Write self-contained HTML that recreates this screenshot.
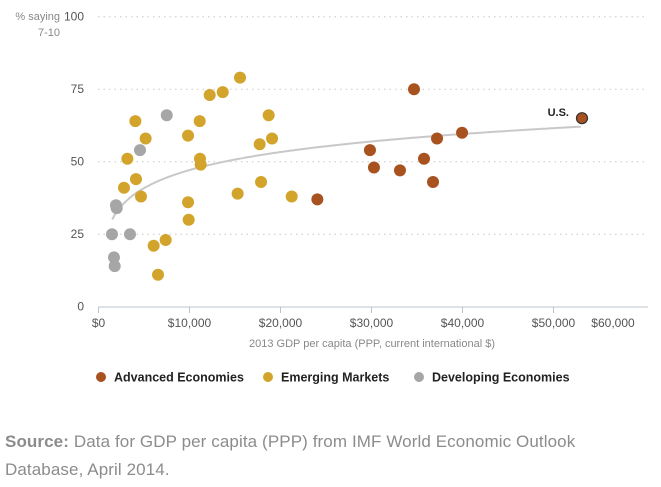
<!DOCTYPE html>
<html><head><meta charset="utf-8">
<style>
body{margin:0;background:#fff;width:661px;height:487px;overflow:hidden;font-family:"Liberation Sans",sans-serif}
svg{position:absolute;left:0;top:0}
.src{position:absolute;left:5px;top:428px;width:650px;font-size:17px;line-height:28px;color:#8c8c8c;letter-spacing:0.1px}
.src b{color:#8c8c8c}
</style></head>
<body>
<svg id="chart" width="661" height="400"></svg>
<div class="src"><b>Source:</b> Data for GDP per capita (PPP) from IMF World Economic Outlook Database, April 2014.</div>
<script>
const yTicks=[0,25,50,75,100];
const xTicks=[0,10000,20000,30000,40000,50000];
const xTickLabels=["$0","$10,000","$20,000","$30,000","$40,000","$50,000"];
const devGdp=[1920,2000,1480,3460,1700,1780,4560,7500];
const devVal=[35,34,25,25,17,14,54,66];
const emGdp=[2800,3170,4050,4120,4670,5180,6060,6540,7380,9840,9840,9910,11120,11150,11230,12220,13650,15550,15290,17710,17860,18700,19070,21230];
const emVal=[41,51,64,44,38,58,21,11,23,59,36,30,64,51,49,73,74,79,39,56,43,66,58,38];
const advGdp=[24050,34670,29830,30270,33130,35770,37200,36760,39950];
const advVal=[37,75,54,48,47,51,58,43,60];
const usGdp=[53130];
const usVal=[65];
const trendA=-35.6, trendB=8.98;
const NS="http://www.w3.org/2000/svg";
const svg=document.getElementById('chart');
const X=v=>98.5+v*0.0091;
const Y=v=>306.7-v*2.9;
function mk(t,a,p){const e=document.createElementNS(NS,t);for(const k in a)e.setAttribute(k,a[k]);(p||svg).appendChild(e);return e;}
yTicks.forEach(t=>{
  if(t>0){const g=mk('line',{x1:98,x2:648,y1:Y(t),y2:Y(t),stroke:'#c8c8c8','stroke-dasharray':'1.5,4'});
  
  }
  const l=mk('text',{x:84,y:Y(t)+4,'text-anchor':'end','font-size':12,fill:'#555','font-family':'Liberation Sans'});
  l.textContent=t;
  
  
});
const yt=mk('text',{x:60,y:20,'text-anchor':'end','font-size':11,fill:'#888'});yt.textContent='% saying';


const yt2=mk('text',{x:60,y:36,'text-anchor':'end','font-size':11,fill:'#888'});yt2.textContent='7-10';


const ax=mk('line',{x1:98.5,x2:648,y1:307,y2:307,stroke:'#b8c4cc'});


xTicks.forEach((t,i)=>{
  mk('line',{x1:X(t),x2:X(t),y1:307,y2:313,stroke:'#b8c4cc'});
  const l=mk('text',{x:X(t),y:327,'text-anchor':'middle','font-size':12,fill:'#555'});
  l.textContent=xTickLabels[i];
  
  
});
const l6=mk('text',{x:613,y:327,'text-anchor':'middle','font-size':12,fill:'#555'});l6.textContent='$60,000';


const xt=mk('text',{x:372,y:347,'text-anchor':'middle','font-size':11,fill:'#888'});xt.textContent='2013 GDP per capita (PPP, current international $)';


// trend
let d='';for(let g=1500;g<=53000;g+=250){const v=trendA+trendB*Math.log(g);d+=(d?'L':'M')+X(g).toFixed(1)+','+Y(v).toFixed(1);}
const tr=mk('path',{d:d,fill:'none',stroke:'#c8c8c8','stroke-width':2});


function series(gs,vs,col,name){gs.forEach((g,i)=>{const c=mk('circle',{cx:X(g),cy:Y(vs[i]),r:6,fill:col});

});}
series(devGdp,devVal,'#a6a6a6','developing-point');
series(emGdp,emVal,'#d3a42c','emerging-point');
series(advGdp,advVal,'#a8521f','advanced-point');
usGdp.forEach((g,i)=>{const c=mk('circle',{cx:X(g),cy:Y(usVal[i]),r:5.5,fill:'#a8521f',stroke:'#333','stroke-width':1.2});


const t=mk('text',{x:X(g)-13,y:Y(usVal[i])-2,'text-anchor':'end','font-size':11,'font-weight':'bold',fill:'#222'});t.textContent='U.S.';

});
[['#a8521f','Advanced Economies',101],['#d3a42c','Emerging Markets',268],['#a6a6a6','Developing Economies',419]].forEach(e=>{
  const g=mk('g',{});
  
  
  mk('circle',{cx:e[2],cy:377,r:5,fill:e[0]},g);
  const t=mk('text',{x:e[2]+13,y:381.5,'font-size':12.5,'font-weight':'bold',fill:'#222'},g);t.textContent=e[1];
});
</script>
</body></html>
